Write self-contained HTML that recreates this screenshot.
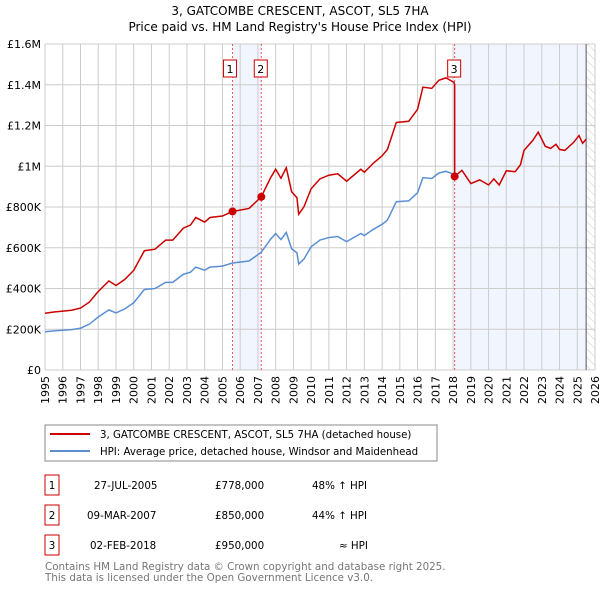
<!DOCTYPE html>
<html><head><meta charset="utf-8"><style>
body{margin:0;background:#fff;font-family:"DejaVu Sans","Liberation Sans",sans-serif;}
svg text{font-family:"DejaVu Sans","Liberation Sans",sans-serif;}
</style></head><body>
<svg id="c" width="600" height="590" xmlns="http://www.w3.org/2000/svg">
<defs><pattern id="hatch" width="6" height="6" patternUnits="userSpaceOnUse" patternTransform="rotate(-45)"><line x1="0" y1="0" x2="0" y2="6" stroke="#ccc" stroke-width="1"/></pattern></defs>
<text x="300" y="15" text-anchor="middle" font-size="12">3, GATCOMBE CRESCENT, ASCOT, SL5 7HA</text>
<text x="300" y="31" text-anchor="middle" font-size="12">Price paid vs. HM Land Registry's House Price Index (HPI)</text>
<g id="plot"></g>
<rect x="45" y="425" width="392" height="36" fill="#fff" stroke="#888"/>
<line x1="50" y1="434" x2="90" y2="434" stroke="#cc0000" stroke-width="2"/>
<text x="100" y="438" font-size="10.2">3, GATCOMBE CRESCENT, ASCOT, SL5 7HA (detached house)</text>
<line x1="50" y1="451" x2="90" y2="451" stroke="#5b8fd4" stroke-width="2"/>
<text x="100" y="455" font-size="10.2">HPI: Average price, detached house, Windsor and Maidenhead</text>
<g font-size="10.3">
<rect x="45" y="475" width="14" height="20" fill="#fff" stroke="#c00"/><text x="52" y="489" text-anchor="middle">1</text>
<text x="94" y="489">27-JUL-2005</text><text x="215" y="489">£778,000</text><text x="312" y="489">48% ↑ HPI</text>
<rect x="45" y="505" width="14" height="20" fill="#fff" stroke="#c00"/><text x="52" y="519" text-anchor="middle">2</text>
<text x="87" y="519">09-MAR-2007</text><text x="215" y="519">£850,000</text><text x="312" y="519">44% ↑ HPI</text>
<rect x="45" y="535" width="14" height="20" fill="#fff" stroke="#c00"/><text x="52" y="549" text-anchor="middle">3</text>
<text x="90" y="549">02-FEB-2018</text><text x="215" y="549">£950,000</text><text x="339" y="549">≈ HPI</text>
</g>
<text x="45" y="570" font-size="10.3" fill="#777">Contains HM Land Registry data © Crown copyright and database right 2025.</text>
<text x="45" y="581" font-size="10.3" fill="#777">This data is licensed under the Open Government Licence v3.0.</text>
</svg>
<script>
const hpiDates=[1995.0,1995.5,1996.0,1996.5,1997.0,1997.5,1998.0,1998.6,1999.0,1999.5,2000.0,2000.6,2001.2,2001.8,2002.2,2002.8,2003.2,2003.5,2004.0,2004.3,2005.0,2005.57,2006.5,2007.19,2007.7,2008.0,2008.3,2008.6,2008.9,2009.2,2009.3,2009.6,2010.0,2010.5,2011.0,2011.5,2012.0,2012.8,2013.0,2013.5,2014.0,2014.3,2014.8,2015.5,2016.0,2016.3,2016.8,2017.2,2017.6,2017.9,2018.05,2018.09,2018.5,2019.0,2019.5,2020.0,2020.3,2020.6,2021.0,2021.5,2021.8,2022.0,2022.5,2022.8,2023.2,2023.5,2023.8,2024.0,2024.3,2024.8,2025.1,2025.3,2025.5];
const hpiValues=[188,192,195,198,205,225,260,295,280,300,330,395,400,430,430,470,480,505,490,505,510,525,535,578,640,670,640,675,595,575,520,545,605,638,650,655,630,670,660,690,715,736,826,830,870,944,940,967,975,965,960,952,982,917,935,910,940,910,980,975,1010,1080,1130,1170,1100,1090,1110,1085,1080,1120,1153,1115,1135];
const saleDates=[2005.57,2007.19,2018.09];
const salePrices=[778,850,950];
const saleLabels=["1","2","3"];
const yTicks=[0,200,400,600,800,1000,1200,1400,1600];
const yTickLabels=["£0","£200K","£400K","£600K","£800K","£1M","£1.2M","£1.4M","£1.6M"];
const years=[];for(let y=1995;y<=2026;y++)years.push(y);
const X0=45,X1=595,Y0=370,Y1=44;
const xs=d=>X0+(d-1995)/31*(X1-X0);
const ys=v=>Y0-v/1600*(Y0-Y1);
const NS="http://www.w3.org/2000/svg";
const g=document.getElementById('plot');
function mk(t,a,p){const e=document.createElementNS(NS,t);for(const k in a)e.setAttribute(k,a[k]);(p||g).appendChild(e);return e;}
function hpiAt(d){for(let i=0;i<hpiDates.length-1;i++){if(d<=hpiDates[i+1]){const t=(d-hpiDates[i])/(hpiDates[i+1]-hpiDates[i]);return hpiValues[i]+t*(hpiValues[i+1]-hpiValues[i]);}}return hpiValues[hpiValues.length-1];}
let r=mk('rect',{x:xs(saleDates[0]),y:Y1,width:xs(saleDates[1])-xs(saleDates[0]),height:Y0-Y1,fill:'#eef3fc',opacity:0.8});

r=mk('rect',{x:xs(saleDates[2]),y:Y1,width:xs(2025.5)-xs(saleDates[2]),height:Y0-Y1,fill:'#eef3fc',opacity:0.8});

r=mk('rect',{x:xs(2025.5),y:Y1,width:X1-xs(2025.5),height:Y0-Y1,fill:'url(#hatch)'});

years.forEach(y=>{const l=mk('line',{x1:xs(y),x2:xs(y),y1:Y1,y2:Y0,stroke:'#ccc','stroke-width':1});

const t=mk('text',{x:0,y:0,'font-size':11,'text-anchor':'end',transform:`translate(${xs(y)+4},${Y0+6}) rotate(-90)`});t.textContent=y;
});
yTicks.forEach((v,i)=>{const l=mk('line',{x1:X0,x2:X1,y1:ys(v),y2:ys(v),stroke:'#ccc','stroke-width':1});

const t=mk('text',{x:X0-4,y:ys(v)+4,'font-size':11,'text-anchor':'end'});t.textContent=yTickLabels[i];
});
let ln=mk('line',{x1:xs(2025.5),x2:xs(2025.5),y1:Y1,y2:Y0,stroke:'#555','stroke-width':1});

saleDates.forEach((d,i)=>{const l=mk('line',{x1:xs(d),x2:xs(d),y1:Y1,y2:Y0,stroke:'#e55','stroke-width':1,'stroke-dasharray':'2,2'});
});
let pts=hpiDates.filter(d=>d<=saleDates[2]).map(d=>xs(d)+','+ys(hpiAt(d))).join(' ');
let p=mk('polyline',{points:pts,fill:'none',stroke:'#5b8fd4','stroke-width':1.5});

function factorAt(d){let k=0;for(let i=0;i<saleDates.length;i++)if(d>=saleDates[i])k=i;return salePrices[k]/hpiAt(saleDates[k]);}
let rp=[];hpiDates.forEach(d=>{if(Math.abs(d-saleDates[2])<1e-9){rp.push(xs(d)+','+ys(hpiValues[hpiDates.indexOf(d)]*salePrices[1]/hpiAt(saleDates[1])));}rp.push(xs(d)+','+ys(hpiAt(d)*factorAt(d)));});
p=mk('polyline',{points:rp.join(' '),fill:'none',stroke:'#cc0000','stroke-width':1.5});

saleDates.forEach((d,i)=>{const c=mk('circle',{cx:xs(d),cy:ys(salePrices[i]),r:4,fill:'#cc0000'});

const b=mk('rect',{x:xs(d)-(i==0?9:7),y:60,width:13,height:17,fill:'#fff',stroke:'#c00'});

const t=mk('text',{x:+b.getAttribute('x')+6.5,y:73,'font-size':11,'text-anchor':'middle'});t.textContent=saleLabels[i];
});
</script>
</body></html>
